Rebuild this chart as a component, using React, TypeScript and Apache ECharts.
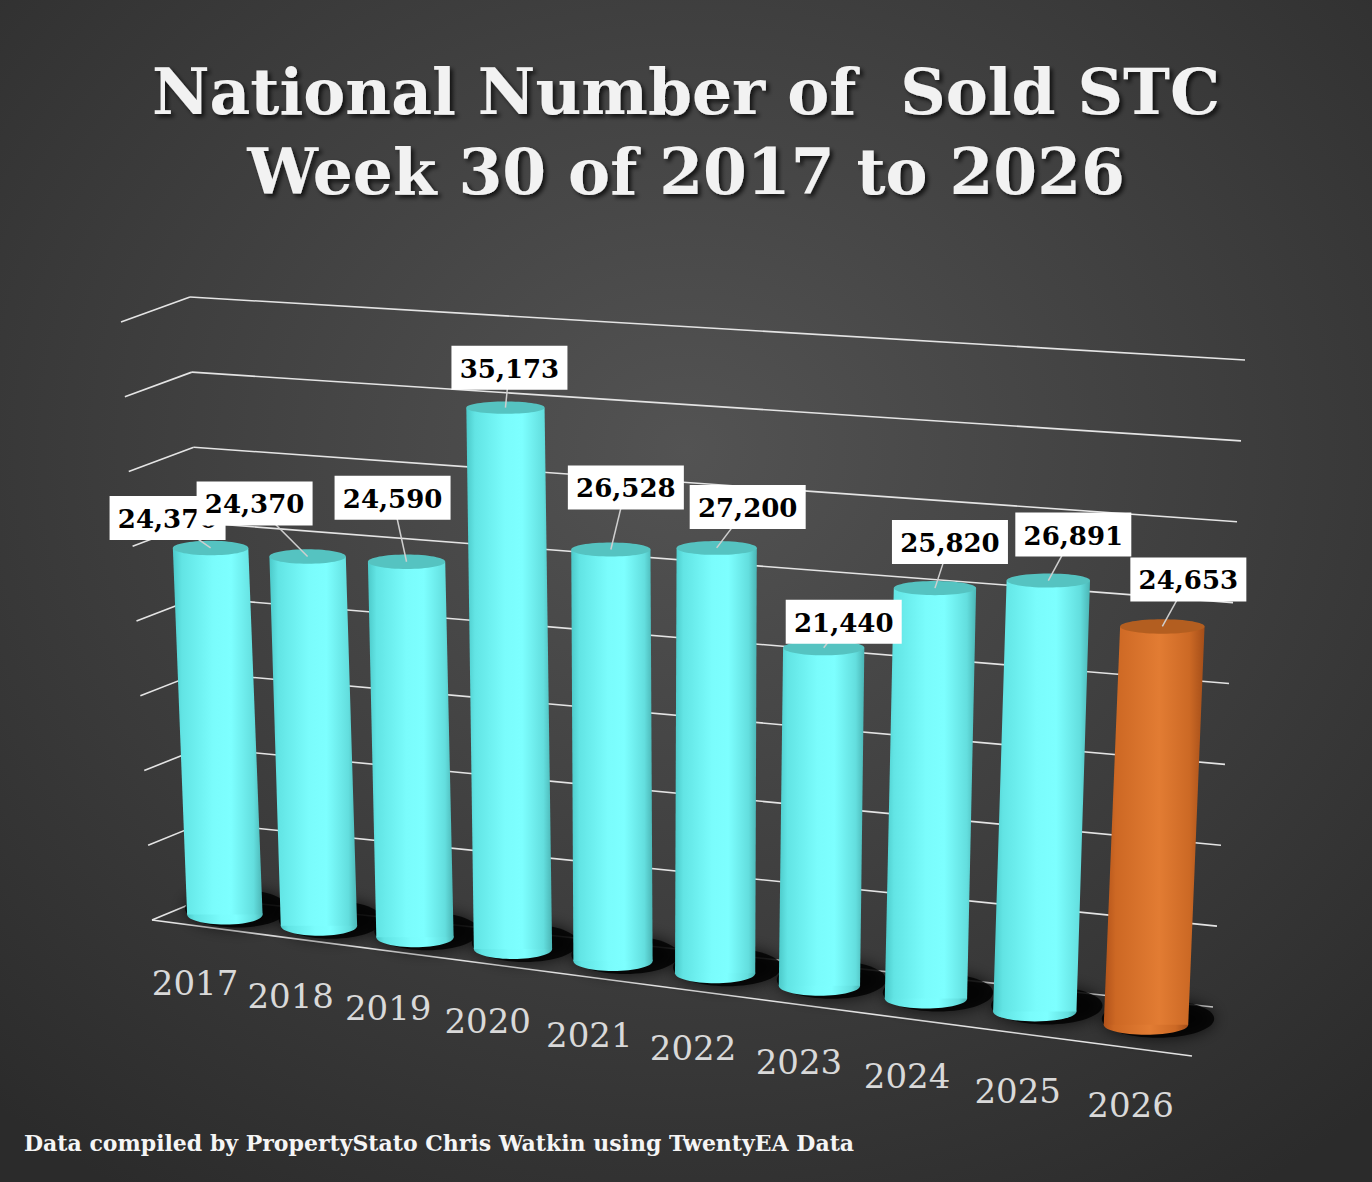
import { useEffect, useRef } from 'react';
import * as echarts from 'echarts';

// Chart data
const categories = ['2017', '2018', '2019', '2020', '2021', '2022', '2023', '2024', '2025', '2026'];
const soldStc = [24370, 24370, 24590, 35173, 26528, 27200, 21440, 25820, 26891, 24653];
const valueTicks = [0, 5000, 10000, 15000, 20000, 25000, 30000, 35000, 40000];
const highlightCategory = '2026';

const titleLines = ['National Number of  Sold STC', 'Week 30 of 2017 to 2026'];
const footerText = 'Data compiled by PropertyStato Chris Watkin using TwentyEA Data';

// hand placed label boxes (offset of box centre from cylinder top), like the original
const labelNudge = [
  [-43, -30], [-53, -53], [-14, -64], [4, -40], [15, -62],
  [31, -41], [20, -26], [15, -46], [25, -46], [26, -47]
];

const WIDTH = 1372;
const HEIGHT = 1182;

// screen corners of the 3D box: back wall and front plane
const BACK = { b0: [205, 898], b1: [1213, 1007], t0: [190, 297], t1: [1245, 360] };
const FRONT = { b0: [152, 920], b1: [1192, 1056], t0: [121, 322], t1: [1227, 405] };
const DEPTH_W = 1.11;

function lerp(a: number[], b: number[], k: number) {
  return [a[0] + (b[0] - a[0]) * k, a[1] + (b[1] - a[1]) * k];
}

function plane(p: any, s: number, v: number) {
  return lerp(lerp(p.b0, p.b1, s), lerp(p.t0, p.t1, s), v);
}

function foreshorten(t: number) {
  return t / (t + DEPTH_W * (1 - t));
}

// t: 0..1 along the category axis, v: 0..1 of the value axis, z: 0 front .. 1 back
function project(t: number, v: number, z: number) {
  const s = foreshorten(t);
  return lerp(plane(FRONT, s, v), plane(BACK, s, v), z);
}

// use the (hidden) cartesian axes to turn data into unit coordinates
function toUnit(api: any, params: any, x: number, y: number) {
  const c = api.coord([x, y]);
  const cs = params.coordSys;
  return [(c[0] - cs.x) / cs.width, (cs.y + cs.height - c[1]) / cs.height];
}

// cylinder top and bottom centres and radii
function cylinderEnds(api: any, params: any, idx: number, val: number) {
  const [t, v] = toUnit(api, params, idx, val);
  const [, v0] = toUnit(api, params, idx, 0);
  const s = foreshorten(t);
  const pb = project(t, v0, 0.5);
  const top = project(t, v, 0.5);
  const lean = -0.043 + 0.089 * s;
  const pt = [pb[0] + (pb[1] - top[1]) * lean, top[1]];
  const rx = 37.5 + 5 * s;
  const ryBottom = 10;
  const ryTop = 10 - 4.5 * v;
  return { t, v0, pb, pt, rx, ryBottom, ryTop };
}

const FONT_SERIF = '"DejaVu Serif", serif';

export default function App() {
  const chartRef = useRef<HTMLDivElement>(null);

  useEffect(() => {
    document.body.style.margin = '0';
    if (!chartRef.current) return;
    const chart = echarts.init(chartRef.current, null, { renderer: 'svg' });

    const cyan = new echarts.graphic.LinearGradient(0, 0, 1, 0, [
      { offset: 0, color: '#4cc9c9' },
      { offset: 0.1, color: '#62e4e4' },
      { offset: 0.45, color: '#7afcfc' },
      { offset: 0.65, color: '#7dffff' },
      { offset: 0.9, color: '#63dede' },
      { offset: 1, color: '#4bb5b5' }
    ]);
    const orange = new echarts.graphic.LinearGradient(0, 0, 1, 0, [
      { offset: 0, color: '#b1521a' },
      { offset: 0.12, color: '#cd6824' },
      { offset: 0.55, color: '#e27c33' },
      { offset: 0.85, color: '#cc6925' },
      { offset: 1, color: '#a44e19' }
    ]);

    const option: any = {
      animation: false,
      grid: { left: 0, right: 0, top: 0, bottom: 0 },
      xAxis: { type: 'category', data: categories, show: false },
      yAxis: { type: 'value', min: 0, max: 40000, interval: 5000, show: false },
      graphic: [
        {
          type: 'rect',
          z: -100,
          shape: { x: 0, y: 0, width: WIDTH, height: HEIGHT },
          style: {
            fill: new echarts.graphic.RadialGradient(0.5, 0.38, 0.75, [
              { offset: 0, color: '#535353' },
              { offset: 1, color: '#2b2b2b' }
            ])
          }
        },
        ...titleLines.map((line, i) => ({
          type: 'text',
          z: 100,
          x: 686,
          y: 92 + i * 80,
          style: {
            text: line,
            fill: '#f2f2f2',
            fontFamily: FONT_SERIF,
            fontWeight: 'bold',
            fontSize: 63,
            align: 'center',
            verticalAlign: 'middle',
            textShadowColor: 'rgba(0,0,0,0.7)',
            textShadowBlur: 4,
            textShadowOffsetX: 3,
            textShadowOffsetY: 3
          }
        })),
        {
          type: 'text',
          z: 100,
          x: 24,
          y: 1143,
          style: {
            text: footerText,
            fill: '#f5f5f5',
            fontFamily: FONT_SERIF,
            fontWeight: 'bold',
            fontSize: 22,
            align: 'left',
            verticalAlign: 'middle'
          }
        }
      ],
      series: [
        {
          // walls: gridlines on the back wall and side wall, floor edges
          type: 'custom',
          z: 1,
          clip: false,
          silent: true,
          data: valueTicks.map((v) => [0, v]),
          renderItem: (params: any, api: any) => {
            const [, v] = toUnit(api, params, 0, api.value(1));
            const lineStyle = { stroke: '#e4e4e4', lineWidth: 1.6 };
            const seg = (a: number[], b: number[]) => ({
              type: 'line',
              shape: { x1: a[0], y1: a[1], x2: b[0], y2: b[1] },
              style: lineStyle
            });
            const children: any[] = [
              seg(project(0, v, 1), project(1, v, 1)),
              seg(project(0, v, 0), project(0, v, 1))
            ];
            if (api.value(1) === 0) {
              children.push(seg(project(0, 0, 0), project(1, 0, 0)));
            }
            return { type: 'group', children };
          }
        },
        {
          // cylinders
          type: 'custom',
          z: 2,
          clip: false,
          silent: true,
          data: categories.map((c, i) => [i, soldStc[i]]),
          renderItem: (params: any, api: any) => {
            const idx = api.value(0);
            const { pb, pt, rx, ryBottom, ryTop } = cylinderEnds(api, params, idx, api.value(1));
            const hot = categories[idx] === highlightCategory;
            const body = hot ? orange : cyan;
            return {
              type: 'group',
              children: [
                {
                  type: 'ellipse',
                  shape: { cx: pb[0] + 12, cy: pb[1] - 6, rx: rx + 14, ry: ryBottom + 9 },
                  style: { fill: 'rgba(0,0,0,0.8)', shadowBlur: 16, shadowColor: 'rgba(0,0,0,0.9)' }
                },
                {
                  type: 'ellipse',
                  shape: { cx: pb[0], cy: pb[1], rx, ry: ryBottom },
                  style: { fill: body }
                },
                {
                  type: 'polygon',
                  shape: {
                    points: [
                      [pb[0] - rx, pb[1]],
                      [pt[0] - rx, pt[1]],
                      [pt[0] + rx, pt[1]],
                      [pb[0] + rx, pb[1]]
                    ]
                  },
                  style: { fill: body }
                },
                {
                  type: 'ellipse',
                  shape: { cx: pt[0], cy: pt[1], rx, ry: ryTop },
                  style: { fill: hot ? '#b35e20' : '#55c3c1' }
                }
              ]
            };
          }
        },
        {
          // data labels and category labels
          type: 'custom',
          z: 3,
          clip: false,
          silent: true,
          data: categories.map((c, i) => [i, soldStc[i]]),
          renderItem: (params: any, api: any) => {
            const idx = api.value(0);
            const val = api.value(1);
            const { t, v0, pt } = cylinderEnds(api, params, idx, val);
            const base = project(t, v0, 0);
            const nudge = labelNudge[idx] || [0, -45];
            const bx = pt[0] + nudge[0];
            const by = pt[1] + nudge[1];
            const bw = 116;
            const bh = 44;
            return {
              type: 'group',
              children: [
                {
                  type: 'line',
                  shape: { x1: pt[0], y1: pt[1], x2: bx, y2: by },
                  style: { stroke: '#cfcfcf', lineWidth: 1.5 }
                },
                {
                  type: 'rect',
                  shape: { x: bx - bw / 2, y: by - bh / 2, width: bw, height: bh },
                  style: { fill: '#ffffff' }
                },
                {
                  type: 'text',
                  x: bx,
                  y: by + 1,
                  style: {
                    text: val.toLocaleString('en-US'),
                    fill: '#000000',
                    fontFamily: FONT_SERIF,
                    fontWeight: 'bold',
                    fontSize: 26,
                    align: 'center',
                    verticalAlign: 'middle'
                  }
                },
                {
                  type: 'text',
                  x: base[0] - 4,
                  y: base[1] + 57,
                  style: {
                    text: categories[idx],
                    fill: '#d9d9d9',
                    fontFamily: FONT_SERIF,
                    fontSize: 34,
                    align: 'center',
                    verticalAlign: 'middle'
                  }
                }
              ]
            };
          }
        }
      ]
    };

    chart.setOption(option);

    return () => {
      chart.dispose();
    };
  }, []);

  return (
    <div
      ref={chartRef}
      style={{ width: `${WIDTH}px`, height: `${HEIGHT}px`, overflow: 'hidden' }}
    />
  );
}
